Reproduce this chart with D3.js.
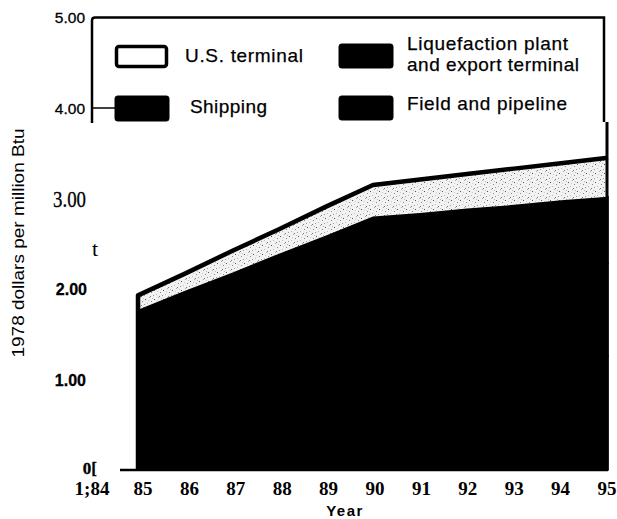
<!DOCTYPE html>
<html>
<head>
<meta charset="utf-8">
<script src="https://cdn.jsdelivr.net/npm/d3@7"></script>
<style>
  html, body { margin: 0; padding: 0; background: #fff; }
  svg { display: block; }
</style>
</head>
<body>
<svg id="chart" width="617" height="519"></svg>
<script>
// ---------- data ----------
const years = [85, 86, 87, 88, 89, 90, 91, 92, 93, 94, 95];
const fieldPipeline = [0.71, 0.80, 0.89, 0.98, 1.07, 1.16, 1.18, 1.20, 1.22, 1.24, 1.26];
const liquefaction  = [0.62, 0.69, 0.76, 0.83, 0.90, 0.97, 0.98, 0.99, 1.00, 1.01, 1.02];
const shipping      = [0.44, 0.49, 0.53, 0.58, 0.62, 0.67, 0.68, 0.70, 0.71, 0.73, 0.74];
const usTerminal    = [0.16, 0.19, 0.24, 0.27, 0.32, 0.35, 0.37, 0.38, 0.40, 0.41, 0.43];

const seriesKeys   = ["Field and pipeline", "Liquefaction plant and export terminal", "Shipping", "U.S. terminal"];
const xTickValues  = [84, 85, 86, 87, 88, 89, 90, 91, 92, 93, 94, 95];
const xTickLabels  = ["1;84", "85", "86", "87", "88", "89", "90", "91", "92", "93", "94", "95"];
const yTickValues  = [0, 1, 2, 3, 4, 5];
const yTickLabels  = ["0[", "1.00", "2.00", "3.00", "4.00", "5.00"];
const strayMark    = { value: 2.43, text: "t" };
const yAxisTitle   = "1978 dollars per million Btu";
const xAxisTitle   = "Year";

// ---------- build table ----------
const table = years.map((yr, i) => ({
  year: yr,
  "Field and pipeline": fieldPipeline[i],
  "Liquefaction plant and export terminal": liquefaction[i],
  "Shipping": shipping[i],
  "U.S. terminal": usTerminal[i]
}));

const svg = d3.select("#chart");
const x = d3.scaleLinear().domain([85, 95]).range([138, 608]);
const xLabelPos = d3.scaleLinear().domain([85, 95]).range([143, 607]);
const y = d3.scaleLinear().domain([0, 5]).range([470, 17.5]);

// stipple pattern
const defs = svg.append("defs");
const pat = defs.append("pattern").attr("id", "stipple")
  .attr("patternUnits", "userSpaceOnUse").attr("width", 9).attr("height", 9);
pat.append("rect").attr("width", 9).attr("height", 9).attr("fill", "#f2f2f2");
const dots = [[1,2,"#555"],[5,0,"#aaa"],[7,4,"#888"],[3,6,"#bbb"],[0,7,"#999"],[6,8,"#777"],[4,3,"#ccc"],[8,1,"#bbb"]];
dots.forEach(d => pat.append("rect").attr("x", d[0]).attr("y", d[1]).attr("width", 1).attr("height", 1).attr("fill", d[2]));

const stack = d3.stack().keys(seriesKeys);
const layers = stack(table);
const fills = {
  "Field and pipeline": "#000",
  "Liquefaction plant and export terminal": "#000",
  "Shipping": "#000",
  "U.S. terminal": "url(#stipple)"
};

const area = d3.area()
  .x(d => x(d.data.year))
  .y0(d => y(d[0]))
  .y1(d => y(d[1]));

svg.append("g").selectAll("path").data(layers).join("path")
  .attr("d", area)
  .attr("fill", d => fills[d.key])
  .attr("stroke", d => d.key === "U.S. terminal" ? "none" : "#000")
  .attr("stroke-width", 1.5);

// outline: left edge + top of stack
const topLayer = layers[layers.length - 1];
const outlinePts = [[x(years[0]), y(0)]].concat(topLayer.map(d => [x(d.data.year), y(d[1])]));
svg.append("path")
  .attr("d", d3.line()(outlinePts))
  .attr("fill", "none").attr("stroke", "#000").attr("stroke-width", 4.5)
  .attr("stroke-linejoin", "round");

// right edge of area going up to legend box
svg.append("line")
  .attr("x1", 607).attr("x2", 607)
  .attr("y1", 122).attr("y2", y(0))
  .attr("stroke", "#000").attr("stroke-width", 3);

// baseline
svg.append("line")
  .attr("x1", 120).attr("x2", 608)
  .attr("y1", y(0)).attr("y2", y(0))
  .attr("stroke", "#000").attr("stroke-width", 2.5);

// legend box / y-axis remnant
svg.append("path")
  .attr("d", `M92,123 V${y(5) + 3} Q92,${y(5)} 95,${y(5)} H604 V122`)
  .attr("fill", "none").attr("stroke", "#000").attr("stroke-width", 2.5);
// 4.00 tick
svg.append("line")
  .attr("x1", 92).attr("x2", 116).attr("y1", y(4)).attr("y2", y(4))
  .attr("stroke", "#000").attr("stroke-width", 1.5);

// ---------- y tick labels ----------
const yStyles = {
  "0[":   { family: "Liberation Serif", weight: "bold", size: 17, xEnd: 97, dy: 4 },
  "1.00": { family: "Liberation Sans", weight: "bold", size: 16, xEnd: 86, dy: 6 },
  "2.00": { family: "Liberation Sans", weight: "bold", size: 16, xEnd: 87, dy: 6 },
  "3.00": { family: "Liberation Serif", weight: "normal", size: 23, xEnd: 86, len: 33, dy: 8 },
  "4.00": { family: "Liberation Sans", weight: "normal", size: 15.5, xEnd: 85, dy: 6 },
  "5.00": { family: "Liberation Sans", weight: "normal", size: 15.5, xEnd: 85, dy: 5 }
};
const yLab = svg.append("g");
yTickValues.forEach((v, i) => {
  const lab = yTickLabels[i];
  const s = yStyles[lab];
  const t = yLab.append("text")
    .attr("x", s.xEnd).attr("y", y(v)).attr("dy", s.dy)
    .attr("text-anchor", "end")
    .attr("font-family", s.family).attr("font-weight", s.weight)
    .attr("font-size", s.size).attr("fill", "#000")
    .attr("stroke", "#000").attr("stroke-width", 0.3)
    .text(lab);
  if (s.len) t.attr("textLength", s.len).attr("lengthAdjust", "spacingAndGlyphs");
});
svg.append("text")
  .attr("x", 95).attr("y", y(strayMark.value)).attr("dy", 6)
  .attr("text-anchor", "middle")
  .attr("font-family", "Liberation Serif").attr("font-size", 22)
  .text(strayMark.text);

// ---------- x tick labels ----------
svg.append("g").selectAll("text").data(xTickValues).join("text")
  .attr("x", (d, i) => i === 0 ? 92 : xLabelPos(d))
  .attr("y", 495)
  .attr("text-anchor", "middle")
  .attr("font-family", "Liberation Serif").attr("font-weight", "bold")
  .attr("font-size", 19)
  .text((d, i) => xTickLabels[i]);

// axis titles
svg.append("text")
  .attr("x", 345).attr("y", 516)
  .attr("text-anchor", "middle")
  .attr("font-family", "Liberation Sans").attr("font-weight", "bold")
  .attr("font-size", 15).attr("letter-spacing", 1.5)
  .text(xAxisTitle);

svg.append("text")
  .attr("transform", "translate(24,243) rotate(-90)")
  .attr("text-anchor", "middle")
  .attr("font-family", "Liberation Sans").attr("font-size", 17)
  .attr("textLength", 229).attr("lengthAdjust", "spacingAndGlyphs")
  .text(yAxisTitle);

// ---------- legend ----------
const legendItems = [
  { key: "U.S. terminal", rx: 116.5, ry: 46.5, w: 50, h: 20, lines: ["U.S. terminal"], tx: 185, ty: [62], lens: [118] },
  { key: "Shipping", rx: 115, ry: 96, w: 54, h: 25, lines: ["Shipping"], tx: 190, ty: [113], lens: [77] },
  { key: "Liquefaction plant and export terminal", rx: 339, ry: 44, w: 54, h: 24, lines: ["Liquefaction plant", "and export terminal"], tx: 407, ty: [50, 71], lens: [161, 172] },
  { key: "Field and pipeline", rx: 339, ry: 96, w: 54, h: 24, lines: ["Field and pipeline"], tx: 407, ty: [110], lens: [160] }
];
const lg = svg.append("g");
legendItems.forEach(it => {
  const isUS = it.key === "U.S. terminal";
  lg.append("rect")
    .attr("x", it.rx).attr("y", it.ry).attr("width", it.w).attr("height", it.h)
    .attr("rx", 2.5)
    .attr("fill", isUS ? "#fff" : "#000")
    .attr("stroke", "#000").attr("stroke-width", isUS ? 3.5 : 1);
  it.lines.forEach((ln, j) => {
    lg.append("text")
      .attr("x", it.tx).attr("y", it.ty[j])
      .attr("font-family", "Liberation Sans").attr("font-size", 19)
      .attr("stroke", "#000").attr("stroke-width", 0.25)
      .attr("textLength", it.lens[j]).attr("lengthAdjust", "spacing")
      .text(ln);
  });
});
</script>
</body>
</html>
